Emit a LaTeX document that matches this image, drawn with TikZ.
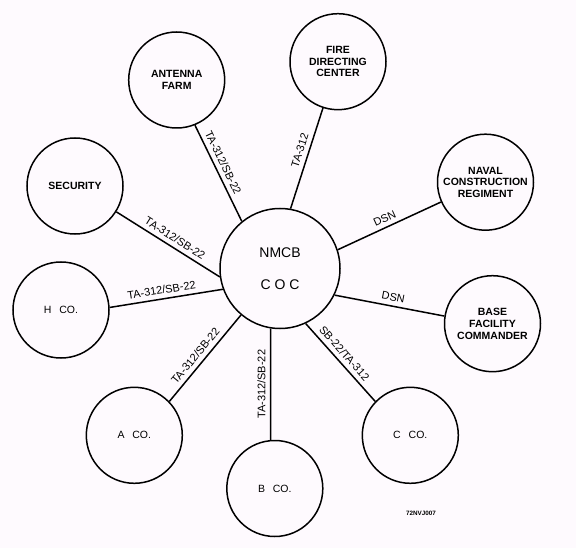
\documentclass[tikz,border=0pt]{standalone}
\usepackage{fontspec}
\setmainfont{Liberation Sans}
\definecolor{bgcol}{RGB}{254,250,254}
\tikzset{
  outer/.style={circle, draw, line width=1.5pt, minimum size=96pt, inner sep=0pt, align=center,
                font=\bfseries\fontsize{10.5}{11.7}\selectfont},
  co/.style={outer, font=\fontsize{10.5}{12}\selectfont},
  hub/.style={circle, draw, line width=1.5pt, minimum size=120pt, inner sep=0pt, align=center,
              font=\fontsize{14}{32}\selectfont},
  link/.style={line width=1.5pt},
  lbltext/.style={inner sep=2.4pt, text height=0.72em, text depth=0.2em, font=\fontsize{11}{12}\selectfont},
  lbl/.style={lbltext, sloped, above}
}
\begin{document}
\begin{tikzpicture}[x=1pt,y=1pt]
\fill[bgcol] (0,0) rectangle (576,-548);
\useasboundingbox (0,0) rectangle (576,-548);

\node[hub] (coc) at (280,-268.5) {NMCB\\C O C};

\node[outer] (ant) at (176.7,-80) {ANTENNA\\FARM};
\node[outer] (fire) at (338,-61.7) {FIRE\\DIRECTING\\CENTER};
\node[outer] (ncr) at (485.5,-182.2) {NAVAL\\CONSTRUCTION\\REGIMENT};
\node[outer] (bfc) at (492.5,-323.7) {BASE\\FACILITY\\COMMANDER};
\node[co] (cco) at (410.3,-435.3) {C\hspace{0.75em}CO.};
\node[co] (bco) at (274.8,-488.5) {B\hspace{0.75em}CO.};
\node[co] (aco) at (134.3,-435.3) {A\hspace{0.75em}CO.};
\node[co] (hco) at (61,-310) {H\hspace{0.75em}CO.};
\node[outer] (sec) at (75,-186) {SECURITY};

\node[font=\bfseries\fontsize{6.3}{7}\selectfont, inner sep=0pt] (code) at (421,-513) {72NVJ007};

\draw[link] (ant.-68) -- node[lbl, pos=.43] {TA-312/SB-22} (coc.129);
\draw[link] (fire.252) -- node[lbl, pos=.45] {TA-312} (coc.80);
\draw[link] (ncr.204.5) -- node[lbl, pos=.51] {DSN} (coc.18.6);
\draw[link] (bfc.171.7) -- node[lbl, pos=.48] {DSN} (coc.-26.4);
\draw[link] (cco.136) -- node[lbl, pos=.54] {SB-22/TA-312} (coc.-65);
\draw[link] (bco.95.65) -- node[lbltext, pos=.5, rotate=90, anchor=south] {TA-312/SB-22} (coc.-99.47);
\draw[link] (aco.44.7) -- node[lbl, pos=.46] {TA-312/SB-22} (coc.230.6);
\draw[link] (hco.3.2) -- node[lbl, pos=.47] {TA-312/SB-22} (coc.200.6);
\draw[link] (sec.-32.2) -- node[lbl, pos=.52] {TA-312/SB-22} (coc.188.1);
\end{tikzpicture}
\end{document}
